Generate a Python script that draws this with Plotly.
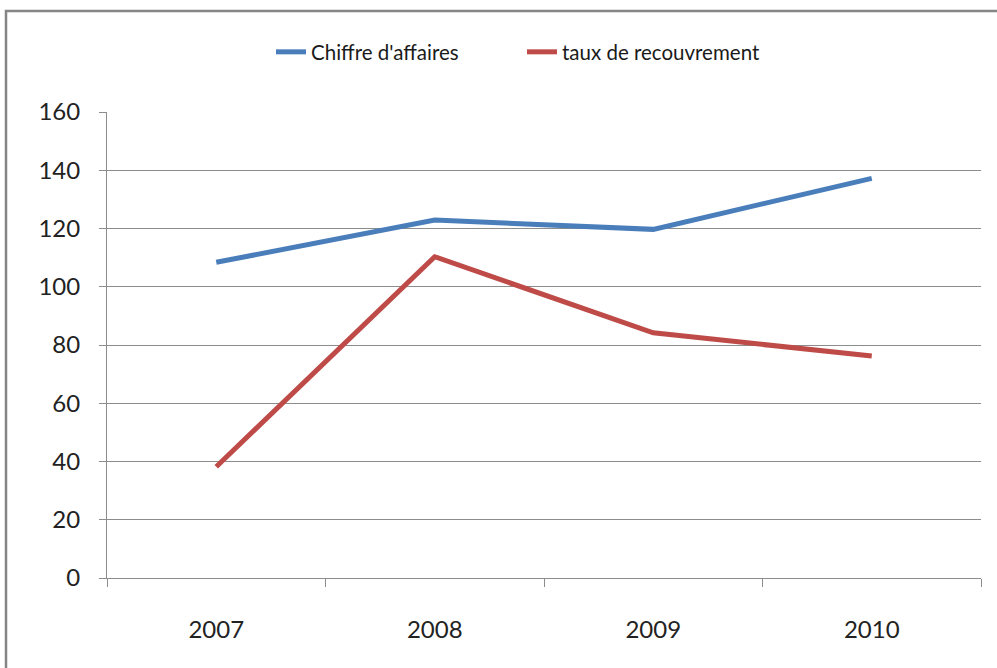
import plotly.graph_objects as go

# Annual figures
years = ["2007", "2008", "2009", "2010"]
chiffre_affaires = [108.4, 122.9, 119.7, 137.2]
taux_recouvrement = [38.2, 110.3, 84.2, 76.2]
y_ticks = [0, 20, 40, 60, 80, 100, 120, 140, 160]

BLUE = "#4A7EBB"
RED = "#BE4B48"
GRID = "#8C8C8C"
FONT = "Lato, Open Sans, sans-serif"

fig = go.Figure()
fig.add_trace(go.Scatter(
    x=years, y=chiffre_affaires, mode="lines", name="Chiffre d'affaires",
    line=dict(color=BLUE, width=5),
))
fig.add_trace(go.Scatter(
    x=years, y=taux_recouvrement, mode="lines", name="taux de recouvrement",
    line=dict(color=RED, width=5),
))

W, H = 997, 668
L, R, T, B = 107, 16, 112, 90
pw, ph = W - L - R, H - T - B

def px_x(x):
    return (x - L) / pw

def px_y(y):
    return (H - B - y) / ph

# outer chart frame
fig.add_shape(type="rect", xref="paper", yref="paper",
              x0=px_x(6), x1=px_x(1010), y0=px_y(690), y1=px_y(11),
              line=dict(color="#858585", width=2.5), fillcolor="rgba(0,0,0,0)",
              layer="below")

fig.update_layout(
    width=W, height=H,
    margin=dict(l=L, r=R, t=T, b=B),
    paper_bgcolor="white", plot_bgcolor="white",
    font=dict(family=FONT, color="#222222"),
    showlegend=True,
    legend=dict(orientation="h", x=px_x(522), xanchor="center",
                y=px_y(52), yanchor="middle",
                font=dict(size=20.5, family=FONT, color="#1a1a1a"),
                entrywidth=206, itemwidth=30, tracegroupgap=0),
    xaxis=dict(
        type="category", showgrid=False, showline=True, linecolor=GRID, linewidth=1,
        ticks="outside", tickson="boundaries", ticklen=8, tickcolor=GRID,
        tickfont=dict(size=24, family=FONT, color="#222222"),
        ticklabelstandoff=30, range=[-0.5, 3.5], fixedrange=True,
    ),
    yaxis=dict(
        range=[0, 160], tickvals=y_ticks, showgrid=True, gridcolor=GRID, gridwidth=1,
        showline=True, linecolor=GRID, linewidth=1, ticks="outside", ticklen=7,
        tickcolor=GRID, zeroline=False,
        tickfont=dict(size=24, family=FONT, color="#222222"),
        ticklabelstandoff=14,
    ),
)

fig.write_html("out.html")
